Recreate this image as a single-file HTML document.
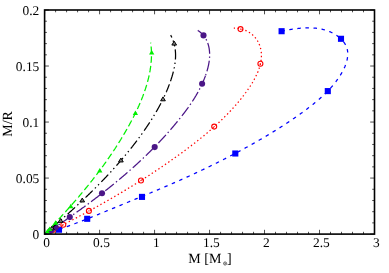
<!DOCTYPE html>
<html><head><meta charset="utf-8"><title>plot</title>
<style>
html,body{margin:0;padding:0;background:#fff;}
body{width:389px;height:273px;position:relative;overflow:hidden;font-family:"Liberation Serif",serif;}
svg{will-change:transform;}
svg text{text-rendering:geometricPrecision;font-family:"Liberation Serif",serif;fill:#000;}
</style></head><body>
<svg width="389" height="273" viewBox="0 0 389 273" style="position:absolute;left:0;top:0">
<rect x="0" y="0" width="389" height="273" fill="#fff"/>
<path d="M44.61 234.13 L45.31 233.91 L46.02 233.69 L46.72 233.46 L47.42 233.24 L48.12 233.02 L48.82 232.79 L49.53 232.56 L50.23 232.34 L50.93 232.11 L51.63 231.88 L52.33 231.65 L53.03 231.42 L53.72 231.18 L54.42 230.95 L55.12 230.71 L55.82 230.48 L56.52 230.24 L57.21 230.00 L57.91 229.76 L58.61 229.52 L59.30 229.28 L60.00 229.04 L60.69 228.79 L61.39 228.55 L62.08 228.31 L62.78 228.06 L63.47 227.81 L64.16 227.56 L64.86 227.32 L65.55 227.07 L66.24 226.82 L66.93 226.56 L67.63 226.31 L68.32 226.06 L69.01 225.81 L69.70 225.55 L70.39 225.30 L71.08 225.04 L71.77 224.78 L72.46 224.52 L73.15 224.27 L73.84 224.01 L74.53 223.75 L75.22 223.49 L75.91 223.23 L76.60 222.96 L77.29 222.70 L77.97 222.44 L78.66 222.17 L79.35 221.91 L80.04 221.64 L80.72 221.38 L81.41 221.11 L82.10 220.85 L82.78 220.58 L83.47 220.31 L84.16 220.04 L84.84 219.77 L85.53 219.50 L86.21 219.23 L86.90 218.96 L87.58 218.69 L88.27 218.42 L88.95 218.15 L89.64 217.87 L90.32 217.60 L91.01 217.33 L91.69 217.05 L92.38 216.78 L93.06 216.51 L93.74 216.23 L94.43 215.96 L95.11 215.68 L95.79 215.40 L96.48 215.13 L97.16 214.85 L97.84 214.57 L98.52 214.30 L99.21 214.02 L99.89 213.74 L100.57 213.46 L101.25 213.18 L101.94 212.91 L102.62 212.63 L103.30 212.35 L103.98 212.07 L104.66 211.79 L105.35 211.51 L106.03 211.23 L106.71 210.95 L107.39 210.67 L108.07 210.39 L108.75 210.11 L109.43 209.83 L110.12 209.55 L110.80 209.27 L111.48 208.99 L112.16 208.71 L112.84 208.42 L113.52 208.14 L114.20 207.86 L114.88 207.58 L115.56 207.30 L116.24 207.02 L116.93 206.74 L117.61 206.46 L118.29 206.18 L118.97 205.90 L119.65 205.62 L120.33 205.34 L121.01 205.06 L121.69 204.78 L122.37 204.50 L123.05 204.22 L123.73 203.94 L124.42 203.66 L125.10 203.38 L125.78 203.10 L126.46 202.82 L127.14 202.54 L127.82 202.26 L128.50 201.98 L129.18 201.70 L129.86 201.42 L130.54 201.14 L131.22 200.86 L131.90 200.58 L132.58 200.30 L133.27 200.02 L133.95 199.74 L134.63 199.46 L135.31 199.18 L135.99 198.90 L136.67 198.62 L137.35 198.34 L138.03 198.06 L138.71 197.78 L139.39 197.50 L140.07 197.22 L140.75 196.94 L141.43 196.66 L142.11 196.38 L142.79 196.10 L143.47 195.82 L144.15 195.54 L144.83 195.25 L145.51 194.97 L146.19 194.69 L146.87 194.41 L147.55 194.13 L148.23 193.84 L148.91 193.56 L149.58 193.28 L150.26 193.00 L150.94 192.71 L151.62 192.43 L152.30 192.15 L152.98 191.86 L153.66 191.58 L154.34 191.29 L155.01 191.01 L155.69 190.72 L156.37 190.44 L157.05 190.15 L157.73 189.87 L158.40 189.58 L159.08 189.29 L159.76 189.00 L160.44 188.72 L161.11 188.43 L161.79 188.14 L162.47 187.85 L163.14 187.56 L163.82 187.27 L164.50 186.98 L165.17 186.69 L165.85 186.40 L166.53 186.11 L167.20 185.82 L167.88 185.53 L168.55 185.24 L169.23 184.94 L169.90 184.65 L170.58 184.36 L171.25 184.06 L171.93 183.77 L172.60 183.47 L173.28 183.18 L173.95 182.88 L174.63 182.59 L175.30 182.29 L175.97 181.99 L176.65 181.69 L177.32 181.40 L177.99 181.10 L178.67 180.80 L179.34 180.50 L180.01 180.20 L180.69 179.90 L181.36 179.60 L182.03 179.30 L182.70 178.99 L183.37 178.69 L184.04 178.39 L184.72 178.09 L185.39 177.78 L186.06 177.48 L186.73 177.17 L187.40 176.87 L188.07 176.56 L188.74 176.26 L189.41 175.95 L190.08 175.64 L190.75 175.34 L191.42 175.03 L192.09 174.72 L192.76 174.41 L193.42 174.10 L194.09 173.79 L194.76 173.48 L195.43 173.17 L196.10 172.86 L196.76 172.55 L197.43 172.23 L198.10 171.92 L198.77 171.61 L199.43 171.29 L200.10 170.98 L200.77 170.66 L201.43 170.35 L202.10 170.03 L202.76 169.71 L203.43 169.40 L204.09 169.08 L204.76 168.76 L205.42 168.44 L206.09 168.12 L206.75 167.80 L207.41 167.48 L208.08 167.16 L208.74 166.84 L209.40 166.52 L210.06 166.19 L210.73 165.87 L211.39 165.55 L212.05 165.22 L212.71 164.90 L213.37 164.57 L214.03 164.25 L214.70 163.92 L215.36 163.59 L216.02 163.27 L216.68 162.94 L217.34 162.61 L218.00 162.28 L218.65 161.95 L219.31 161.62 L219.97 161.29 L220.63 160.96 L221.29 160.63 L221.95 160.29 L222.60 159.96 L223.26 159.63 L223.92 159.29 L224.57 158.96 L225.23 158.62 L225.89 158.29 L226.54 157.95 L227.20 157.61 L227.85 157.27 L228.51 156.93 L229.16 156.60 L229.81 156.26 L230.47 155.92 L231.12 155.57 L231.77 155.23 L232.43 154.89 L233.08 154.55 L233.73 154.20 L234.38 153.86 L235.04 153.52 L235.69 153.17 L236.34 152.83 L236.99 152.48 L237.64 152.13 L238.29 151.78 L238.94 151.44 L239.59 151.09 L240.24 150.74 L240.88 150.39 L241.53 150.04 L242.18 149.69 L242.83 149.33 L243.47 148.98 L244.12 148.63 L244.77 148.27 L245.41 147.92 L246.06 147.56 L246.70 147.21 L247.35 146.85 L247.99 146.49 L248.64 146.14 L249.28 145.78 L249.93 145.42 L250.57 145.06 L251.21 144.70 L251.85 144.34 L252.50 143.98 L253.14 143.61 L253.78 143.25 L254.42 142.89 L255.06 142.52 L255.70 142.16 L256.34 141.79 L256.98 141.42 L257.62 141.06 L258.26 140.69 L258.90 140.32 L259.54 139.95 L260.17 139.58 L260.81 139.21 L261.45 138.84 L262.08 138.47 L262.72 138.10 L263.35 137.72 L263.99 137.35 L264.62 136.97 L265.26 136.60 L265.89 136.22 L266.53 135.84 L267.16 135.47 L267.79 135.09 L268.42 134.71 L269.06 134.33 L269.69 133.95 L270.32 133.57 L270.95 133.19 L271.58 132.80 L272.21 132.42 L272.84 132.03 L273.47 131.65 L274.09 131.26 L274.72 130.88 L275.35 130.49 L275.97 130.10 L276.60 129.71 L277.22 129.32 L277.85 128.93 L278.47 128.54 L279.10 128.14 L279.72 127.75 L280.34 127.35 L280.96 126.96 L281.59 126.56 L282.21 126.16 L282.83 125.77 L283.45 125.37 L284.06 124.96 L284.68 124.56 L285.30 124.16 L285.92 123.76 L286.53 123.35 L287.15 122.95 L287.76 122.54 L288.38 122.13 L288.99 121.72 L289.60 121.31 L290.21 120.90 L290.83 120.49 L291.44 120.08 L292.05 119.66 L292.66 119.25 L293.26 118.83 L293.87 118.42 L294.48 118.00 L295.08 117.58 L295.69 117.16 L296.29 116.74 L296.90 116.31 L297.50 115.89 L298.10 115.46 L298.70 115.04 L299.30 114.61 L299.90 114.18 L300.50 113.75 L301.10 113.32 L301.70 112.89 L302.29 112.45 L302.89 112.02 L303.48 111.58 L304.08 111.14 L304.67 110.70 L305.26 110.26 L305.85 109.82 L306.44 109.38 L307.03 108.94 L307.62 108.49 L308.21 108.04 L308.79 107.60 L309.38 107.15 L309.96 106.70 L310.55 106.24 L311.13 105.79 L311.71 105.33 L312.29 104.88 L312.86 104.42 L313.44 103.96 L314.01 103.49 L314.59 103.03 L315.16 102.56 L315.73 102.09 L316.29 101.62 L316.86 101.15 L317.42 100.68 L317.98 100.20 L318.54 99.72 L319.10 99.24 L319.65 98.76 L320.20 98.27 L320.75 97.78 L321.30 97.29 L321.85 96.80 L322.39 96.30 L322.93 95.80 L323.46 95.30 L324.00 94.80 L324.53 94.29 L325.06 93.78 L325.58 93.27 L326.11 92.75 L326.63 92.23 L327.14 91.71 L327.65 91.19 L328.16 90.66 L328.67 90.13 L329.17 89.60 L329.67 89.06 L330.17 88.52 L330.66 87.98 L331.15 87.43 L331.63 86.88 L332.11 86.33 L332.59 85.77 L333.06 85.21 L333.53 84.64 L333.99 84.07 L334.45 83.50 L334.91 82.93 L335.36 82.35 L335.81 81.76 L336.25 81.17 L336.69 80.58 L337.12 79.99 L337.55 79.39 L337.98 78.78 L338.40 78.18 L338.81 77.56 L339.22 76.95 L339.63 76.33 L340.03 75.70 L340.42 75.07 L340.81 74.44 L341.20 73.80 L341.58 73.16 L341.95 72.51 L342.32 71.85 L342.68 71.20 L343.03 70.54 L343.38 69.87 L343.71 69.20 L344.04 68.52 L344.35 67.84 L344.66 67.16 L344.96 66.47 L345.24 65.77 L345.51 65.07 L345.77 64.37 L346.02 63.66 L346.25 62.94 L346.47 62.22 L346.67 61.50 L346.86 60.77 L347.04 60.03 L347.19 59.29 L347.33 58.54 L347.45 57.80 L347.55 57.04 L347.64 56.29 L347.70 55.54 L347.74 54.78 L347.76 54.04 L347.75 53.29 L347.72 52.55 L347.66 51.82 L347.57 51.09 L347.46 50.38 L347.32 49.67 L347.15 48.98 L346.96 48.29 L346.74 47.62 L346.49 46.95 L346.23 46.30 L345.93 45.65 L345.62 45.02 L345.28 44.40 L344.92 43.79 L344.54 43.18 L344.14 42.59 L343.72 42.01 L343.29 41.45 L342.83 40.89 L342.36 40.34 L341.87 39.81 L341.36 39.29 L340.84 38.77" fill="none" stroke="#0000ff" stroke-width="1.25" stroke-dasharray="3.5 4.6" stroke-dashoffset="0.90"/>
<path d="M340.84 38.77 L340.30 38.27 L339.75 37.78 L339.19 37.31 L338.61 36.84 L338.03 36.39 L337.43 35.95 L336.82 35.52 L336.20 35.10 L335.57 34.70 L334.94 34.31 L334.29 33.93 L333.64 33.56 L332.98 33.21 L332.32 32.86 L331.65 32.54 L330.98 32.22 L330.30 31.92 L329.62 31.63 L328.94 31.35 L328.25 31.08 L327.56 30.83 L326.86 30.58 L326.16 30.35 L325.46 30.13 L324.76 29.93 L324.05 29.73 L323.33 29.54 L322.62 29.37 L321.90 29.20 L321.18 29.05 L320.46 28.90 L319.73 28.77 L319.01 28.65 L318.28 28.53 L317.55 28.43 L316.81 28.33 L316.08 28.24 L315.34 28.16 L314.60 28.10 L313.86 28.04 L313.12 27.98 L312.38 27.94 L311.63 27.90 L310.89 27.88 L310.14 27.86 L309.39 27.84 L308.65 27.84 L307.90 27.84 L307.15 27.85 L306.40 27.86 L305.65 27.89 L304.90 27.92 L304.16 27.95 L303.41 27.99 L302.66 28.04 L301.91 28.09 L301.16 28.15 L300.42 28.21 L299.67 28.28 L298.93 28.36 L298.18 28.43 L297.44 28.52 L296.70 28.61 L295.96 28.70 L295.22 28.79 L294.48 28.90 L293.75 29.00 L293.01 29.11 L292.28 29.22 L291.55 29.33 L290.82 29.45 L290.10 29.57 L289.38 29.69 L288.66 29.82 L287.94 29.95 L287.22 30.08 L286.51 30.21 L285.80 30.34 L285.10 30.48 L284.39 30.61 L283.69 30.75 L283.00 30.89 L282.31 31.03 L281.62 31.17" fill="none" stroke="#0000ff" stroke-width="1.25" stroke-dasharray="3.5 4.6" stroke-dashoffset="5.93"/>
<rect x="55.95" y="226.65" width="6.1" height="6.1" fill="#0000ff"/>
<rect x="84.15" y="215.75" width="6.1" height="6.1" fill="#0000ff"/>
<rect x="138.95" y="193.85" width="6.1" height="6.1" fill="#0000ff"/>
<rect x="232.25" y="150.45" width="6.1" height="6.1" fill="#0000ff"/>
<rect x="324.75" y="88.05" width="6.1" height="6.1" fill="#0000ff"/>
<rect x="337.95" y="35.75" width="6.1" height="6.1" fill="#0000ff"/>
<rect x="278.55" y="28.15" width="6.1" height="6.1" fill="#0000ff"/>
<path d="M44.60 234.12 L45.10 233.87 L45.60 233.63 L46.09 233.38 L46.59 233.13 L47.09 232.88 L47.59 232.63 L48.09 232.38 L48.58 232.13 L49.08 231.88 L49.58 231.63 L50.08 231.38 L50.57 231.13 L51.07 230.88 L51.57 230.63 L52.07 230.38 L52.56 230.13 L53.06 229.88 L53.56 229.63 L54.05 229.38 L54.55 229.12 L55.04 228.87 L55.54 228.62 L56.04 228.37 L56.53 228.12 L57.03 227.86 L57.52 227.61 L58.02 227.36 L58.51 227.11 L59.01 226.85 L59.50 226.60 L60.00 226.35 L60.49 226.09 L60.99 225.84 L61.48 225.59 L61.98 225.33 L62.47 225.08 L62.96 224.82 L63.46 224.57 L63.95 224.31 L64.45 224.06 L64.94 223.80 L65.43 223.55 L65.93 223.29 L66.42 223.04 L66.91 222.78 L67.40 222.52 L67.90 222.27 L68.39 222.01 L68.88 221.75 L69.37 221.50 L69.87 221.24 L70.36 220.98 L70.85 220.72 L71.34 220.47 L71.83 220.21 L72.32 219.95 L72.82 219.69 L73.31 219.43 L73.80 219.17 L74.29 218.91 L74.78 218.65 L75.27 218.40 L75.76 218.14 L76.25 217.88 L76.74 217.62 L77.23 217.36 L77.72 217.09 L78.21 216.83 L78.70 216.57 L79.19 216.31 L79.68 216.05 L80.17 215.79 L80.66 215.53 L81.14 215.26 L81.63 215.00 L82.12 214.74 L82.61 214.48 L83.10 214.21 L83.59 213.95 L84.07 213.69 L84.56 213.42 L85.05 213.16 L85.54 212.90 L86.02 212.63 L86.51 212.37 L87.00 212.10 L87.49 211.84 L87.97 211.57 L88.46 211.31 L88.94 211.04 L89.43 210.78 L89.92 210.51 L90.40 210.24 L90.89 209.98 L91.37 209.71 L91.86 209.44 L92.35 209.18 L92.83 208.91 L93.32 208.64 L93.80 208.37 L94.29 208.10 L94.77 207.83 L95.25 207.57 L95.74 207.30 L96.22 207.03 L96.71 206.76 L97.19 206.49 L97.67 206.22 L98.16 205.95 L98.64 205.68 L99.12 205.41 L99.61 205.14 L100.09 204.86 L100.57 204.59 L101.05 204.32 L101.54 204.05 L102.02 203.78 L102.50 203.50 L102.98 203.23 L103.46 202.96 L103.95 202.68 L104.43 202.41 L104.91 202.14 L105.39 201.86 L105.87 201.59 L106.35 201.31 L106.83 201.04 L107.31 200.76 L107.79 200.49 L108.27 200.21 L108.75 199.94 L109.23 199.66 L109.71 199.38 L110.19 199.11 L110.67 198.83 L111.15 198.55 L111.63 198.28 L112.11 198.00 L112.59 197.72 L113.06 197.44 L113.54 197.16 L114.02 196.88 L114.50 196.60 L114.98 196.32 L115.45 196.04 L115.93 195.76 L116.41 195.48 L116.89 195.20 L117.36 194.92 L117.84 194.64 L118.32 194.36 L118.79 194.08 L119.27 193.80 L119.74 193.51 L120.22 193.23 L120.70 192.95 L121.17 192.66 L121.65 192.38 L122.12 192.10 L122.60 191.81 L123.07 191.53 L123.55 191.24 L124.02 190.96 L124.50 190.67 L124.97 190.39 L125.44 190.10 L125.92 189.82 L126.39 189.53 L126.86 189.24 L127.34 188.96 L127.81 188.67 L128.28 188.38 L128.76 188.09 L129.23 187.80 L129.70 187.52 L130.17 187.23 L130.65 186.94 L131.12 186.65 L131.59 186.36 L132.06 186.07 L132.53 185.78 L133.00 185.49 L133.47 185.20 L133.94 184.90 L134.42 184.61 L134.89 184.32 L135.36 184.03 L135.83 183.74 L136.30 183.44 L136.77 183.15 L137.23 182.86 L137.70 182.56 L138.17 182.27 L138.64 181.97 L139.11 181.68 L139.58 181.38 L140.05 181.09 L140.52 180.79 L140.98 180.49 L141.45 180.20 L141.92 179.90 L142.39 179.60 L142.85 179.31 L143.32 179.01 L143.79 178.71 L144.26 178.41 L144.72 178.11 L145.19 177.81 L145.65 177.51 L146.12 177.21 L146.59 176.91 L147.05 176.61 L147.52 176.31 L147.98 176.01 L148.45 175.71 L148.91 175.41 L149.38 175.11 L149.84 174.80 L150.31 174.50 L150.77 174.20 L151.23 173.89 L151.70 173.59 L152.16 173.28 L152.62 172.98 L153.09 172.67 L153.55 172.37 L154.01 172.06 L154.47 171.76 L154.94 171.45 L155.40 171.14 L155.86 170.84 L156.32 170.53 L156.78 170.22 L157.25 169.91 L157.71 169.61 L158.17 169.30 L158.63 168.99 L159.09 168.68 L159.55 168.37 L160.01 168.06 L160.47 167.75 L160.93 167.43 L161.39 167.12 L161.85 166.81 L162.31 166.50 L162.77 166.19 L163.23 165.87 L163.68 165.56 L164.14 165.25 L164.60 164.93 L165.06 164.62 L165.52 164.30 L165.97 163.99 L166.43 163.67 L166.89 163.36 L167.35 163.04 L167.80 162.72 L168.26 162.41 L168.72 162.09 L169.17 161.77 L169.63 161.45 L170.08 161.14 L170.54 160.82 L170.99 160.50 L171.45 160.18 L171.90 159.86 L172.36 159.54 L172.81 159.22 L173.27 158.89 L173.72 158.57 L174.18 158.25 L174.63 157.93 L175.08 157.61 L175.54 157.28 L175.99 156.96 L176.44 156.63 L176.89 156.31 L177.35 155.99 L177.80 155.66 L178.25 155.33 L178.70 155.01 L179.15 154.68 L179.61 154.36 L180.06 154.03 L180.51 153.70 L180.96 153.37 L181.41 153.04 L181.86 152.72 L182.31 152.39 L182.76 152.06 L183.21 151.73 L183.66 151.40 L184.11 151.06 L184.55 150.73 L185.00 150.40 L185.45 150.07 L185.90 149.74 L186.35 149.40 L186.79 149.07 L187.24 148.74 L187.69 148.40 L188.13 148.07 L188.58 147.73 L189.02 147.39 L189.47 147.06 L189.91 146.72 L190.36 146.38 L190.80 146.04 L191.24 145.71 L191.69 145.37 L192.13 145.03 L192.57 144.69 L193.01 144.35 L193.45 144.01 L193.90 143.66 L194.34 143.32 L194.78 142.98 L195.22 142.64 L195.65 142.29 L196.09 141.95 L196.53 141.60 L196.97 141.26 L197.41 140.91 L197.84 140.57 L198.28 140.22 L198.72 139.87 L199.15 139.52 L199.59 139.17 L200.02 138.82 L200.45 138.47 L200.89 138.12 L201.32 137.77 L201.75 137.42 L202.18 137.07 L202.61 136.72 L203.04 136.36 L203.47 136.01 L203.90 135.65 L204.33 135.30 L204.76 134.94 L205.19 134.59 L205.61 134.23 L206.04 133.87 L206.47 133.51 L206.89 133.15 L207.32 132.80 L207.74 132.43 L208.16 132.07 L208.59 131.71 L209.01 131.35 L209.43 130.99 L209.85 130.62 L210.27 130.26 L210.69 129.89 L211.11 129.53 L211.52 129.16 L211.94 128.80 L212.36 128.43 L212.77 128.06 L213.19 127.69 L213.60 127.32 L214.02 126.95 L214.43 126.58 L214.84 126.21 L215.25 125.84 L215.66 125.46 L216.07 125.09 L216.48 124.72 L216.89 124.34 L217.30 123.96 L217.70 123.59 L218.11 123.21 L218.51 122.83 L218.92 122.45 L219.32 122.07 L219.72 121.69 L220.12 121.31 L220.53 120.93 L220.93 120.55 L221.32 120.16 L221.72 119.78 L222.12 119.39 L222.52 119.01 L222.91 118.62 L223.31 118.24 L223.70 117.85 L224.09 117.46 L224.49 117.07 L224.88 116.68 L225.27 116.29 L225.66 115.90 L226.04 115.50 L226.43 115.11 L226.82 114.71 L227.20 114.32 L227.59 113.92 L227.97 113.53 L228.35 113.13 L228.74 112.73 L229.12 112.33 L229.50 111.93 L229.88 111.53 L230.25 111.13 L230.63 110.72 L231.01 110.32 L231.38 109.92 L231.75 109.51 L232.13 109.10 L232.50 108.70 L232.87 108.29 L233.24 107.88 L233.61 107.47 L233.97 107.06 L234.34 106.65 L234.70 106.24 L235.07 105.82 L235.43 105.41 L235.79 104.99 L236.15 104.58 L236.51 104.16 L236.87 103.74 L237.23 103.32 L237.58 102.91 L237.94 102.48 L238.29 102.06 L238.65 101.64 L239.00 101.22 L239.35 100.79 L239.70 100.37 L240.05 99.94 L240.39 99.51 L240.74 99.09 L241.08 98.66 L241.43 98.23 L241.77 97.80 L242.11 97.36 L242.45 96.93 L242.79 96.50 L243.12 96.06 L243.46 95.63 L243.79 95.19 L244.13 94.75 L244.46 94.31 L244.79 93.87 L245.12 93.43 L245.45 92.99 L245.78 92.55 L246.10 92.10 L246.43 91.66 L246.75 91.21 L247.07 90.77 L247.39 90.32 L247.71 89.87 L248.03 89.42 L248.34 88.97 L248.65 88.51 L248.97 88.06 L249.27 87.60 L249.58 87.14 L249.89 86.68 L250.19 86.22 L250.49 85.76 L250.79 85.29 L251.09 84.83 L251.38 84.36 L251.68 83.89 L251.97 83.42 L252.25 82.95 L252.54 82.47 L252.82 81.99 L253.10 81.51 L253.38 81.03 L253.65 80.55 L253.92 80.06 L254.19 79.57 L254.45 79.08 L254.72 78.59 L254.98 78.09 L255.23 77.60 L255.49 77.10 L255.74 76.59 L255.98 76.09 L256.22 75.58 L256.46 75.07 L256.70 74.56 L256.93 74.04 L257.16 73.52 L257.38 73.00 L257.60 72.48 L257.82 71.96 L258.03 71.43 L258.24 70.90 L258.44 70.37 L258.63 69.84 L258.82 69.31 L259.01 68.77 L259.19 68.24 L259.36 67.70 L259.53 67.16 L259.70 66.62 L259.85 66.08 L260.00 65.53 L260.14 64.99 L260.28 64.44 L260.41 63.90 L260.53 63.35 L260.65 62.81 L260.76 62.26 L260.86 61.71 L260.95 61.16 L261.04 60.61 L261.12 60.06 L261.19 59.51 L261.25 58.96 L261.30 58.41 L261.34 57.86 L261.38 57.32 L261.41 56.77 L261.42 56.22 L261.43 55.67 L261.43 55.12 L261.42 54.57 L261.40 54.03 L261.37 53.48 L261.33 52.94 L261.28 52.39 L261.22 51.85 L261.15 51.31 L261.07 50.77 L260.98 50.23 L260.87 49.69 L260.76 49.16 L260.64 48.63 L260.51 48.10 L260.36 47.57 L260.21 47.04 L260.05 46.52 L259.87 46.00 L259.69 45.49 L259.50 44.98 L259.30 44.47 L259.08 43.97 L258.86 43.47 L258.63 42.98 L258.39 42.49 L258.14 42.00 L257.88 41.53 L257.61 41.05 L257.33 40.58 L257.04 40.12 L256.74 39.67 L256.43 39.22 L256.11 38.78 L255.79 38.34 L255.45 37.91 L255.10 37.49 L254.75 37.08 L254.39 36.67 L254.02 36.28 L253.63 35.89 L253.24 35.51 L252.85 35.13 L252.44 34.77 L252.02 34.41 L251.60 34.07 L251.16 33.73 L250.72 33.40 L250.27 33.08 L249.82 32.78 L249.35 32.48 L248.88 32.19 L248.41 31.90 L247.92 31.63 L247.43 31.37 L246.94 31.12 L246.43 30.88 L245.93 30.65 L245.41 30.42 L244.89 30.21 L244.37 30.01 L243.84 29.82 L243.31 29.64 L242.78 29.47 L242.23 29.31 L241.69 29.16 L241.14 29.02 L240.59 28.89 L240.04 28.77 L239.48 28.66 L238.92 28.57 L238.36 28.48 L237.80 28.41 L237.24 28.34 L236.67 28.29 L236.10 28.25 L235.53 28.22 L234.96 28.20 L234.39 28.19 L233.82 28.20" fill="none" stroke="#ff0000" stroke-width="1.25" stroke-dasharray="1.4 2.6" stroke-dashoffset="0.91"/>
<circle cx="53.00" cy="230.00" r="2.5" fill="none" stroke="#ff0000" stroke-width="1.1"/><circle cx="53.00" cy="230.00" r="0.65" fill="#ff0000"/>
<circle cx="63.30" cy="224.80" r="2.5" fill="none" stroke="#ff0000" stroke-width="1.1"/><circle cx="63.30" cy="224.80" r="0.65" fill="#ff0000"/>
<circle cx="88.90" cy="210.90" r="2.5" fill="none" stroke="#ff0000" stroke-width="1.1"/><circle cx="88.90" cy="210.90" r="0.65" fill="#ff0000"/>
<circle cx="141.00" cy="180.50" r="2.5" fill="none" stroke="#ff0000" stroke-width="1.1"/><circle cx="141.00" cy="180.50" r="0.65" fill="#ff0000"/>
<circle cx="214.20" cy="126.60" r="2.5" fill="none" stroke="#ff0000" stroke-width="1.1"/><circle cx="214.20" cy="126.60" r="0.65" fill="#ff0000"/>
<circle cx="260.40" cy="63.80" r="2.5" fill="none" stroke="#ff0000" stroke-width="1.1"/><circle cx="260.40" cy="63.80" r="0.65" fill="#ff0000"/>
<circle cx="240.50" cy="29.10" r="2.5" fill="none" stroke="#ff0000" stroke-width="1.1"/><circle cx="240.50" cy="29.10" r="0.65" fill="#ff0000"/>
<path d="M44.68 234.20 L45.06 233.94 L45.45 233.69 L45.83 233.43 L46.22 233.18 L46.60 232.92 L46.98 232.66 L47.37 232.41 L47.75 232.15 L48.14 231.89 L48.52 231.64 L48.91 231.38 L49.29 231.12 L49.68 230.86 L50.06 230.61 L50.45 230.35 L50.83 230.09 L51.21 229.83 L51.60 229.57 L51.98 229.32 L52.37 229.06 L52.75 228.80 L53.13 228.54 L53.52 228.28 L53.90 228.02 L54.29 227.76 L54.67 227.50 L55.05 227.24 L55.44 226.98 L55.82 226.72 L56.21 226.46 L56.59 226.20 L56.97 225.94 L57.36 225.68 L57.74 225.42 L58.12 225.16 L58.51 224.90 L58.89 224.63 L59.27 224.37 L59.65 224.11 L60.04 223.85 L60.42 223.59 L60.80 223.32 L61.19 223.06 L61.57 222.80 L61.95 222.54 L62.33 222.27 L62.72 222.01 L63.10 221.75 L63.48 221.48 L63.86 221.22 L64.25 220.95 L64.63 220.69 L65.01 220.43 L65.39 220.16 L65.77 219.90 L66.15 219.63 L66.54 219.37 L66.92 219.10 L67.30 218.84 L67.68 218.57 L68.06 218.30 L68.44 218.04 L68.82 217.77 L69.20 217.51 L69.59 217.24 L69.97 216.97 L70.35 216.70 L70.73 216.44 L71.11 216.17 L71.49 215.90 L71.87 215.63 L72.25 215.37 L72.63 215.10 L73.01 214.83 L73.39 214.56 L73.77 214.29 L74.15 214.02 L74.53 213.75 L74.91 213.48 L75.29 213.21 L75.66 212.94 L76.04 212.67 L76.42 212.40 L76.80 212.13 L77.18 211.86 L77.56 211.59 L77.94 211.32 L78.31 211.05 L78.69 210.78 L79.07 210.51 L79.45 210.23 L79.83 209.96 L80.20 209.69 L80.58 209.42 L80.96 209.14 L81.34 208.87 L81.71 208.60 L82.09 208.32 L82.47 208.05 L82.84 207.78 L83.22 207.50 L83.60 207.23 L83.97 206.95 L84.35 206.68 L84.72 206.40 L85.10 206.13 L85.48 205.85 L85.85 205.58 L86.23 205.30 L86.60 205.03 L86.98 204.75 L87.35 204.47 L87.73 204.20 L88.10 203.92 L88.48 203.64 L88.85 203.36 L89.22 203.09 L89.60 202.81 L89.97 202.53 L90.35 202.25 L90.72 201.97 L91.09 201.70 L91.47 201.42 L91.84 201.14 L92.21 200.86 L92.58 200.58 L92.96 200.30 L93.33 200.02 L93.70 199.74 L94.07 199.46 L94.44 199.18 L94.82 198.89 L95.19 198.61 L95.56 198.33 L95.93 198.05 L96.30 197.77 L96.67 197.48 L97.04 197.20 L97.41 196.92 L97.78 196.64 L98.15 196.35 L98.52 196.07 L98.89 195.79 L99.26 195.50 L99.63 195.22 L100.00 194.93 L100.37 194.65 L100.74 194.36 L101.11 194.08 L101.47 193.79 L101.84 193.51 L102.21 193.22 L102.58 192.93 L102.94 192.65 L103.31 192.36 L103.68 192.07 L104.05 191.79 L104.41 191.50 L104.78 191.21 L105.14 190.92 L105.51 190.63 L105.88 190.34 L106.24 190.06 L106.61 189.77 L106.97 189.48 L107.34 189.19 L107.70 188.90 L108.07 188.61 L108.43 188.32 L108.80 188.03 L109.16 187.73 L109.52 187.44 L109.89 187.15 L110.25 186.86 L110.61 186.57 L110.97 186.28 L111.34 185.98 L111.70 185.69 L112.06 185.40 L112.42 185.10 L112.78 184.81 L113.15 184.52 L113.51 184.22 L113.87 183.93 L114.23 183.63 L114.59 183.34 L114.95 183.04 L115.31 182.75 L115.67 182.45 L116.03 182.15 L116.39 181.86 L116.75 181.56 L117.10 181.26 L117.46 180.97 L117.82 180.67 L118.18 180.37 L118.54 180.07 L118.89 179.78 L119.25 179.48 L119.61 179.18 L119.96 178.88 L120.32 178.58 L120.68 178.28 L121.03 177.98 L121.39 177.68 L121.74 177.38 L122.10 177.08 L122.45 176.78 L122.81 176.47 L123.16 176.17 L123.52 175.87 L123.87 175.57 L124.22 175.26 L124.58 174.96 L124.93 174.66 L125.28 174.35 L125.64 174.05 L125.99 173.75 L126.34 173.44 L126.69 173.14 L127.04 172.83 L127.39 172.53 L127.74 172.22 L128.09 171.92 L128.44 171.61 L128.79 171.30 L129.14 171.00 L129.49 170.69 L129.84 170.38 L130.19 170.07 L130.54 169.76 L130.89 169.46 L131.24 169.15 L131.58 168.84 L131.93 168.53 L132.28 168.22 L132.62 167.91 L132.97 167.60 L133.32 167.29 L133.66 166.98 L134.01 166.67 L134.35 166.36 L134.70 166.04 L135.04 165.73 L135.39 165.42 L135.73 165.11 L136.07 164.79 L136.42 164.48 L136.76 164.17 L137.10 163.85 L137.45 163.54 L137.79 163.22 L138.13 162.91 L138.47 162.59 L138.81 162.28 L139.15 161.96 L139.49 161.64 L139.83 161.33 L140.17 161.01 L140.51 160.69 L140.85 160.38 L141.19 160.06 L141.53 159.74 L141.87 159.42 L142.20 159.10 L142.54 158.78 L142.88 158.46 L143.22 158.14 L143.55 157.82 L143.89 157.50 L144.23 157.18 L144.56 156.86 L144.90 156.54 L145.23 156.22 L145.57 155.90 L145.90 155.57 L146.23 155.25 L146.57 154.93 L146.90 154.60 L147.23 154.28 L147.56 153.96 L147.90 153.63 L148.23 153.31 L148.56 152.98 L148.89 152.66 L149.22 152.33 L149.55 152.00 L149.88 151.68 L150.21 151.35 L150.54 151.02 L150.87 150.69 L151.20 150.37 L151.53 150.04 L151.85 149.71 L152.18 149.38 L152.51 149.05 L152.84 148.72 L153.16 148.39 L153.49 148.06 L153.81 147.73 L154.14 147.40 L154.46 147.07 L154.79 146.74 L155.11 146.40 L155.44 146.07 L155.76 145.74 L156.08 145.41 L156.40 145.07 L156.73 144.74 L157.05 144.40 L157.37 144.07 L157.69 143.73 L158.01 143.40 L158.33 143.06 L158.65 142.73 L158.97 142.39 L159.29 142.05 L159.61 141.72 L159.93 141.38 L160.25 141.04 L160.56 140.70 L160.88 140.36 L161.20 140.02 L161.51 139.68 L161.83 139.34 L162.14 139.00 L162.46 138.66 L162.77 138.32 L163.09 137.98 L163.40 137.64 L163.72 137.30 L164.03 136.96 L164.34 136.61 L164.65 136.27 L164.97 135.93 L165.28 135.58 L165.59 135.24 L165.90 134.89 L166.21 134.55 L166.52 134.20 L166.83 133.86 L167.14 133.51 L167.45 133.17 L167.75 132.82 L168.06 132.47 L168.37 132.12 L168.68 131.78 L168.98 131.43 L169.29 131.08 L169.59 130.73 L169.90 130.38 L170.20 130.03 L170.51 129.68 L170.81 129.33 L171.12 128.98 L171.42 128.63 L171.72 128.27 L172.02 127.92 L172.33 127.57 L172.63 127.22 L172.93 126.86 L173.23 126.51 L173.53 126.15 L173.83 125.80 L174.13 125.44 L174.42 125.09 L174.72 124.73 L175.02 124.38 L175.32 124.02 L175.61 123.66 L175.91 123.31 L176.21 122.95 L176.50 122.59 L176.80 122.23 L177.09 121.87 L177.39 121.51 L177.68 121.15 L177.97 120.79 L178.26 120.43 L178.56 120.07 L178.85 119.71 L179.14 119.35 L179.43 118.99 L179.72 118.62 L180.01 118.26 L180.30 117.90 L180.59 117.53 L180.88 117.17 L181.17 116.80 L181.45 116.44 L181.74 116.07 L182.03 115.71 L182.31 115.34 L182.60 114.97 L182.88 114.61 L183.17 114.24 L183.45 113.87 L183.73 113.50 L184.01 113.13 L184.29 112.76 L184.58 112.39 L184.86 112.02 L185.13 111.65 L185.41 111.28 L185.69 110.90 L185.97 110.53 L186.24 110.16 L186.52 109.78 L186.79 109.41 L187.07 109.03 L187.34 108.66 L187.61 108.28 L187.88 107.90 L188.16 107.53 L188.43 107.15 L188.69 106.77 L188.96 106.39 L189.23 106.01 L189.49 105.63 L189.76 105.25 L190.02 104.87 L190.29 104.48 L190.55 104.10 L190.81 103.72 L191.07 103.33 L191.33 102.95 L191.59 102.56 L191.84 102.18 L192.10 101.79 L192.36 101.40 L192.61 101.01 L192.86 100.62 L193.11 100.23 L193.36 99.84 L193.61 99.45 L193.86 99.06 L194.11 98.67 L194.35 98.27 L194.60 97.88 L194.84 97.48 L195.08 97.09 L195.32 96.69 L195.56 96.29 L195.80 95.89 L196.04 95.50 L196.27 95.10 L196.51 94.69 L196.74 94.29 L196.97 93.89 L197.20 93.49 L197.43 93.08 L197.66 92.68 L197.89 92.27 L198.11 91.87 L198.33 91.46 L198.56 91.05 L198.78 90.64 L198.99 90.23 L199.21 89.82 L199.43 89.41 L199.64 89.00 L199.85 88.59 L200.07 88.17 L200.28 87.76 L200.48 87.34 L200.69 86.92 L200.90 86.50 L201.10 86.09 L201.30 85.67 L201.50 85.24 L201.70 84.82 L201.90 84.40 L202.09 83.98 L202.28 83.55 L202.47 83.13 L202.66 82.70 L202.85 82.27 L203.04 81.84 L203.22 81.41 L203.41 80.98 L203.59 80.55 L203.77 80.12 L203.94 79.69 L204.12 79.25 L204.29 78.81 L204.47 78.38 L204.63 77.94 L204.80 77.50 L204.97 77.06 L205.13 76.62 L205.30 76.18 L205.46 75.73" fill="none" stroke="#4b1687" stroke-width="1.25" stroke-dasharray="11 2.75 1.4 2.75" stroke-dashoffset="14.97"/>
<path d="M205.46 75.73 L205.61 75.29 L205.77 74.84 L205.92 74.40 L206.08 73.95 L206.23 73.50 L206.37 73.05 L206.52 72.60 L206.66 72.15 L206.80 71.70 L206.94 71.25 L207.07 70.79 L207.21 70.34 L207.34 69.88 L207.46 69.43 L207.59 68.97 L207.71 68.51 L207.83 68.06 L207.94 67.60 L208.05 67.14 L208.16 66.68 L208.27 66.22 L208.37 65.76 L208.47 65.30 L208.56 64.84 L208.65 64.38 L208.74 63.91 L208.82 63.45 L208.90 62.99 L208.98 62.53 L209.05 62.06 L209.12 61.60 L209.19 61.14 L209.25 60.68 L209.30 60.21 L209.36 59.75 L209.40 59.29 L209.45 58.82 L209.49 58.36 L209.52 57.90 L209.55 57.43 L209.58 56.97 L209.60 56.51 L209.61 56.04 L209.62 55.58 L209.63 55.12 L209.63 54.66 L209.63 54.20 L209.62 53.74 L209.61 53.28 L209.59 52.81 L209.56 52.36 L209.53 51.90 L209.50 51.44 L209.46 50.98 L209.41 50.52 L209.36 50.07 L209.30 49.61 L209.24 49.16 L209.17 48.71 L209.10 48.26 L209.02 47.81 L208.93 47.36 L208.84 46.92 L208.74 46.47 L208.63 46.03 L208.52 45.59 L208.40 45.15 L208.28 44.72 L208.15 44.28 L208.01 43.85 L207.87 43.42 L207.72 43.00 L207.56 42.57 L207.40 42.15 L207.23 41.74 L207.05 41.32 L206.87 40.91 L206.68 40.50 L206.48 40.09 L206.27 39.69 L206.06 39.29 L205.84 38.89 L205.61 38.50 L205.38 38.11 L205.14 37.73 L204.89 37.35 L204.63 36.97 L204.36 36.60 L204.09 36.23 L203.81 35.86 L203.52 35.50 L203.22 35.14 L202.92 34.79 L202.61 34.45 L202.29 34.10 L201.96 33.77 L201.62 33.43 L201.27 33.10 L200.92 32.78 L200.56 32.46 L200.19 32.15 L199.81 31.84 L199.42 31.54 L199.02 31.24 L198.61 30.95 L198.20 30.67 L197.77 30.39" fill="none" stroke="#4b1687" stroke-width="1.25" stroke-dasharray="11 2.75 1.4 2.75" stroke-dashoffset="13.28"/>
<circle cx="50.50" cy="230.90" r="3.05" fill="#4b1687"/>
<circle cx="55.60" cy="227.40" r="3.05" fill="#4b1687"/>
<circle cx="69.80" cy="217.10" r="3.05" fill="#4b1687"/>
<circle cx="102.00" cy="193.20" r="3.05" fill="#4b1687"/>
<circle cx="154.70" cy="147.10" r="3.05" fill="#4b1687"/>
<circle cx="202.10" cy="83.80" r="3.05" fill="#4b1687"/>
<circle cx="203.50" cy="35.40" r="3.05" fill="#4b1687"/>
<path d="M44.62 234.12 L44.94 233.85 L45.25 233.59 L45.57 233.32 L45.88 233.05 L46.19 232.78 L46.51 232.52 L46.82 232.25 L47.14 231.98 L47.45 231.71 L47.77 231.44 L48.08 231.18 L48.39 230.91 L48.71 230.64 L49.02 230.37 L49.33 230.10 L49.65 229.83 L49.96 229.56 L50.28 229.29 L50.59 229.03 L50.90 228.76 L51.22 228.49 L51.53 228.22 L51.84 227.95 L52.16 227.68 L52.47 227.41 L52.78 227.14 L53.09 226.87 L53.41 226.60 L53.72 226.33 L54.03 226.06 L54.35 225.79 L54.66 225.51 L54.97 225.24 L55.28 224.97 L55.60 224.70 L55.91 224.43 L56.22 224.16 L56.53 223.89 L56.84 223.62 L57.16 223.34 L57.47 223.07 L57.78 222.80 L58.09 222.53 L58.40 222.26 L58.71 221.98 L59.03 221.71 L59.34 221.44 L59.65 221.16 L59.96 220.89 L60.27 220.62 L60.58 220.35 L60.89 220.07 L61.20 219.80 L61.51 219.52 L61.82 219.25 L62.13 218.98 L62.45 218.70 L62.76 218.43 L63.07 218.15 L63.38 217.88 L63.69 217.60 L64.00 217.33 L64.30 217.06 L64.61 216.78 L64.92 216.50 L65.23 216.23 L65.54 215.95 L65.85 215.68 L66.16 215.40 L66.47 215.13 L66.78 214.85 L67.09 214.57 L67.40 214.30 L67.70 214.02 L68.01 213.74 L68.32 213.47 L68.63 213.19 L68.94 212.91 L69.24 212.64 L69.55 212.36 L69.86 212.08 L70.17 211.80 L70.47 211.53 L70.78 211.25 L71.09 210.97 L71.40 210.69 L71.70 210.41 L72.01 210.13 L72.32 209.86 L72.62 209.58 L72.93 209.30 L73.23 209.02 L73.54 208.74 L73.85 208.46 L74.15 208.18 L74.46 207.90 L74.76 207.62 L75.07 207.34 L75.37 207.06 L75.68 206.78 L75.98 206.50 L76.29 206.22 L76.59 205.93 L76.90 205.65 L77.20 205.37 L77.50 205.09 L77.81 204.81 L78.11 204.53 L78.42 204.24 L78.72 203.96 L79.02 203.68 L79.33 203.40 L79.63 203.11 L79.93 202.83 L80.23 202.55 L80.54 202.27 L80.84 201.98 L81.14 201.70 L81.44 201.41 L81.74 201.13 L82.05 200.85 L82.35 200.56 L82.65 200.28" fill="none" stroke="#000000" stroke-width="1.25" stroke-dasharray="10 3.1 1.4 3.1 1.4 3.2" stroke-dashoffset="13.85"/>
<path d="M82.65 200.28 L82.95 199.99 L83.25 199.71 L83.55 199.42 L83.85 199.14 L84.15 198.85 L84.45 198.57 L84.75 198.28 L85.05 198.00 L85.35 197.71 L85.65 197.42 L85.95 197.14 L86.25 196.85 L86.55 196.56 L86.85 196.28 L87.15 195.99 L87.44 195.70 L87.74 195.41 L88.04 195.13 L88.34 194.84 L88.64 194.55 L88.93 194.26 L89.23 193.97 L89.53 193.68 L89.83 193.40 L90.12 193.11 L90.42 192.82 L90.71 192.53 L91.01 192.24 L91.31 191.95 L91.60 191.66 L91.90 191.37 L92.19 191.08 L92.49 190.79 L92.78 190.50 L93.08 190.20 L93.37 189.91 L93.67 189.62 L93.96 189.33 L94.25 189.04 L94.55 188.75 L94.84 188.45 L95.13 188.16 L95.43 187.87 L95.72 187.58 L96.01 187.28 L96.31 186.99 L96.60 186.70 L96.89 186.40 L97.18 186.11 L97.47 185.82 L97.76 185.52 L98.05 185.23 L98.35 184.93 L98.64 184.64 L98.93 184.34 L99.22 184.05 L99.51 183.75 L99.80 183.46 L100.08 183.16 L100.37 182.86 L100.66 182.57 L100.95 182.27 L101.24 181.97 L101.53 181.68 L101.82 181.38 L102.10 181.08 L102.39 180.78 L102.68 180.49 L102.97 180.19 L103.25 179.89 L103.54 179.59 L103.83 179.29 L104.11 178.99 L104.40 178.70 L104.68 178.40 L104.97 178.10 L105.25 177.80 L105.54 177.50 L105.82 177.20 L106.11 176.90 L106.39 176.59 L106.67 176.29 L106.96 175.99 L107.24 175.69 L107.52 175.39 L107.81 175.09 L108.09 174.79 L108.37 174.48 L108.65 174.18 L108.94 173.88 L109.22 173.58 L109.50 173.27 L109.78 172.97 L110.06 172.67 L110.34 172.36 L110.62 172.06 L110.90 171.75 L111.18 171.45 L111.46 171.14 L111.74 170.84 L112.02 170.53 L112.30 170.23 L112.57 169.92 L112.85 169.62 L113.13 169.31 L113.41 169.00 L113.68 168.70 L113.96 168.39 L114.24 168.08 L114.51 167.77 L114.79 167.47 L115.07 167.16 L115.34 166.85 L115.62 166.54 L115.89 166.23 L116.16 165.93 L116.44 165.62 L116.71 165.31 L116.99 165.00 L117.26 164.69 L117.53 164.38 L117.81 164.07 L118.08 163.76 L118.35 163.45 L118.62 163.13 L118.89 162.82 L119.17 162.51 L119.44 162.20 L119.71 161.89 L119.98 161.58 L120.25 161.26 L120.52 160.95 L120.79 160.64 L121.06 160.32 L121.32 160.01 L121.59 159.70 L121.86 159.38 L122.13 159.07 L122.40 158.75 L122.66 158.44 L122.93 158.12 L123.20 157.81 L123.46 157.49 L123.73 157.18 L124.00 156.86 L124.26 156.54 L124.53 156.23 L124.79 155.91 L125.05 155.59 L125.32 155.27 L125.58 154.96 L125.85 154.64 L126.11 154.32 L126.37 154.00 L126.63 153.68 L126.90 153.36 L127.16 153.04 L127.42 152.73 L127.68 152.41 L127.94 152.09 L128.20 151.76 L128.46 151.44 L128.72 151.12 L128.98 150.80 L129.24 150.48 L129.50 150.16 L129.76 149.84 L130.01 149.51 L130.27 149.19 L130.53 148.87 L130.79 148.55 L131.04 148.22 L131.30 147.90 L131.56 147.57 L131.81 147.25 L132.07 146.93 L132.32 146.60 L132.58 146.28 L132.83 145.95 L133.08 145.63 L133.34 145.30 L133.59 144.97 L133.84 144.65 L134.10 144.32 L134.35 143.99 L134.60 143.67 L134.85 143.34 L135.10 143.01 L135.35 142.68 L135.60 142.35 L135.85 142.02 L136.10 141.70 L136.35 141.37 L136.60 141.04 L136.85 140.71 L137.10 140.38 L137.34 140.05 L137.59 139.72 L137.84 139.38 L138.08 139.05 L138.33 138.72 L138.58 138.39 L138.82 138.06 L139.07 137.72 L139.31 137.39 L139.55 137.06 L139.80 136.72 L140.04 136.39 L140.28 136.06 L140.53 135.72 L140.77 135.39 L141.01 135.05 L141.25 134.72 L141.49 134.38 L141.74 134.05 L141.98 133.71 L142.22 133.37 L142.45 133.04 L142.69 132.70 L142.93 132.36 L143.17 132.03 L143.41 131.69 L143.65 131.35 L143.88 131.01 L144.12 130.67 L144.36 130.33 L144.59 129.99 L144.83 129.65 L145.06 129.31 L145.30 128.97 L145.53 128.63 L145.77 128.29 L146.00 127.95 L146.23 127.61 L146.47 127.27 L146.70 126.92 L146.93 126.58 L147.16 126.24 L147.39 125.90 L147.62 125.55 L147.85 125.21 L148.08 124.86 L148.31 124.52 L148.54 124.17 L148.76 123.83 L148.99 123.48 L149.22 123.14 L149.45 122.79 L149.67 122.44 L149.90 122.10 L150.12 121.75 L150.35 121.40 L150.57 121.05 L150.79 120.71 L151.01 120.36 L151.24 120.01 L151.46 119.66 L151.68 119.31 L151.90 118.96 L152.12 118.61 L152.34 118.26 L152.56 117.91 L152.77 117.56 L152.99 117.20 L153.21 116.85 L153.43 116.50 L153.64 116.15 L153.86 115.79 L154.07 115.44 L154.28 115.09 L154.50 114.73 L154.71 114.38 L154.92 114.02 L155.13 113.67 L155.34 113.31 L155.55 112.95 L155.76 112.60 L155.97 112.24 L156.18 111.88 L156.39 111.52 L156.59 111.17 L156.80 110.81 L157.01 110.45 L157.21 110.09 L157.41 109.73 L157.62 109.37 L157.82 109.01 L158.02 108.65 L158.22 108.29 L158.42 107.93 L158.62 107.56 L158.82 107.20 L159.02 106.84 L159.22 106.47 L159.41 106.11 L159.61 105.75 L159.81 105.38 L160.00 105.02 L160.19 104.65 L160.39 104.29 L160.58 103.92 L160.77 103.55 L160.96 103.19 L161.15 102.82 L161.34 102.45 L161.53 102.08 L161.72 101.71 L161.90 101.34 L162.09 100.98 L162.27 100.61 L162.46 100.23 L162.64 99.86 L162.82 99.49 L163.00 99.12 L163.18 98.75 L163.36 98.38 L163.54 98.00 L163.72 97.63 L163.90 97.26 L164.08 96.88 L164.25 96.51 L164.43 96.13 L164.60 95.76 L164.77 95.38 L164.95 95.00 L165.12 94.63 L165.29 94.25 L165.46 93.87 L165.62 93.49 L165.79 93.11 L165.96 92.73 L166.12 92.35 L166.29 91.97 L166.45 91.59 L166.62 91.21 L166.78 90.83 L166.94 90.45 L167.10 90.07 L167.26 89.68 L167.42 89.30 L167.57 88.92 L167.73 88.53 L167.88 88.15 L168.04 87.76 L168.19 87.38 L168.34 86.99 L168.49 86.60 L168.64 86.22 L168.79 85.83 L168.94 85.44 L169.09 85.05" fill="none" stroke="#000000" stroke-width="1.25" stroke-dasharray="10 3.1 1.4 3.1 1.4 3.25" stroke-dashoffset="18.28"/>
<path d="M169.09 85.05 L169.23 84.66 L169.38 84.27 L169.52 83.88 L169.67 83.49 L169.81 83.10 L169.95 82.71 L170.09 82.32 L170.23 81.92 L170.37 81.53 L170.50 81.14 L170.64 80.74 L170.77 80.35 L170.90 79.95 L171.04 79.56 L171.17 79.16 L171.30 78.76 L171.43 78.37 L171.55 77.97 L171.68 77.57 L171.80 77.17 L171.93 76.78 L172.05 76.38 L172.17 75.98 L172.29 75.58 L172.40 75.18 L172.52 74.78 L172.63 74.38 L172.74 73.98 L172.85 73.57 L172.96 73.17 L173.07 72.77 L173.18 72.37 L173.28 71.97 L173.38 71.56 L173.48 71.16 L173.58 70.76 L173.67 70.35 L173.77 69.95 L173.86 69.54 L173.95 69.14 L174.04 68.74 L174.12 68.33 L174.21 67.93 L174.29 67.52 L174.37 67.12 L174.45 66.71 L174.52 66.31 L174.59 65.90 L174.66 65.50 L174.73 65.09 L174.80 64.68 L174.86 64.28 L174.92 63.87 L174.98 63.47 L175.03 63.06 L175.09 62.65 L175.14 62.25 L175.19 61.84 L175.23 61.44 L175.27 61.03 L175.31 60.62 L175.35 60.22 L175.38 59.81 L175.42 59.41 L175.44 59.00 L175.47 58.59 L175.49 58.19 L175.51 57.78 L175.53 57.38 L175.54 56.97 L175.55 56.57 L175.56 56.16 L175.56 55.76 L175.57 55.35 L175.56 54.95 L175.56 54.54 L175.55 54.14 L175.54 53.73 L175.52 53.33 L175.51 52.93 L175.48 52.52 L175.46 52.12 L175.43 51.72 L175.40 51.31 L175.36 50.91 L175.32 50.51 L175.28 50.11 L175.24 49.71 L175.19 49.31 L175.13 48.90 L175.07 48.50 L175.01 48.10 L174.95 47.70 L174.88 47.30 L174.81 46.90 L174.73 46.51 L174.65 46.11 L174.57 45.71 L174.48 45.31 L174.39 44.91 L174.29 44.52 L174.19 44.12 L174.08 43.73 L173.98 43.33 L173.86 42.94 L173.75 42.54 L173.63 42.15 L173.50 41.75 L173.37 41.36 L173.24 40.97 L173.10 40.58 L172.95 40.19 L172.81 39.80 L172.66 39.40 L172.50 39.02 L172.34 38.63 L172.17 38.24 L172.00 37.85 L171.83 37.46 L171.65 37.08 L171.46 36.69 L171.28 36.31 L171.08 35.92 L170.88 35.54 L170.68 35.15" fill="none" stroke="#000000" stroke-width="1.25" stroke-dasharray="10 3.2 1.4 3.2 1.4 3.2" stroke-dashoffset="18.30"/>
<path d="M52.00 226.05 L54.35 229.95 L49.65 229.95 Z" fill="#808080" stroke="#000000" stroke-width="1.0" stroke-linejoin="miter"/>
<path d="M60.60 218.45 L62.95 222.35 L58.25 222.35 Z" fill="#808080" stroke="#000000" stroke-width="1.0" stroke-linejoin="miter"/>
<path d="M82.25 198.05 L84.60 201.95 L79.90 201.95 Z" fill="#808080" stroke="#000000" stroke-width="1.0" stroke-linejoin="miter"/>
<path d="M120.90 158.05 L123.25 161.95 L118.55 161.95 Z" fill="#808080" stroke="#000000" stroke-width="1.0" stroke-linejoin="miter"/>
<path d="M163.00 96.90 L165.35 100.80 L160.65 100.80 Z" fill="#808080" stroke="#000000" stroke-width="1.0" stroke-linejoin="miter"/>
<path d="M174.20 41.15 L176.55 45.05 L171.85 45.05 Z" fill="#808080" stroke="#000000" stroke-width="1.0" stroke-linejoin="miter"/>
<path d="M44.60 234.10 L44.86 233.83 L45.12 233.56 L45.38 233.29 L45.64 233.02 L45.91 232.75 L46.17 232.48 L46.43 232.20 L46.69 231.93 L46.95 231.66 L47.21 231.39 L47.47 231.12 L47.73 230.84 L47.99 230.57 L48.25 230.30 L48.51 230.03 L48.77 229.75 L49.04 229.48 L49.30 229.21 L49.56 228.94 L49.82 228.66 L50.08 228.39 L50.33 228.12 L50.59 227.84 L50.85 227.57 L51.11 227.30 L51.37 227.02 L51.63 226.75 L51.89 226.48 L52.15 226.20 L52.41 225.93 L52.67 225.66 L52.93 225.38 L53.18 225.11 L53.44 224.83 L53.70 224.56 L53.96 224.29 L54.22 224.01 L54.48 223.74 L54.73 223.46 L54.99 223.19 L55.25 222.91 L55.51 222.64 L55.76 222.36 L56.02 222.09 L56.28 221.81 L56.53 221.54 L56.79 221.26 L57.05 220.99 L57.30 220.71 L57.56 220.44 L57.82 220.16 L58.07 219.88 L58.33 219.61 L58.59 219.33 L58.84 219.06 L59.10 218.78 L59.35 218.50 L59.61 218.23 L59.86 217.95 L60.12 217.67 L60.37 217.40 L60.63 217.12 L60.88 216.84 L61.14 216.57 L61.39 216.29 L61.65 216.01 L61.90 215.73 L62.15 215.46 L62.41 215.18 L62.66 214.90 L62.92 214.62 L63.17 214.34 L63.42 214.07 L63.68 213.79 L63.93 213.51 L64.18 213.23 L64.43 212.95 L64.69 212.67 L64.94 212.40 L65.19 212.12 L65.44 211.84 L65.70 211.56 L65.95 211.28 L66.20 211.00 L66.45 210.72 L66.70 210.44 L66.95 210.16 L67.21 209.88 L67.46 209.60 L67.71 209.32 L67.96 209.04 L68.21 208.76 L68.46 208.48 L68.71 208.20 L68.96 207.92 L69.21 207.64 L69.46 207.36 L69.71 207.08 L69.96 206.80 L70.21 206.51 L70.46 206.23 L70.70 205.95 L70.95 205.67 L71.20 205.39 L71.45 205.11 L71.70 204.82 L71.95 204.54 L72.20 204.26 L72.44 203.98 L72.69 203.69 L72.94 203.41 L73.19 203.13 L73.43 202.85 L73.68 202.56 L73.93 202.28 L74.17 202.00 L74.42 201.71 L74.67 201.43 L74.91 201.15 L75.16 200.86 L75.40 200.58 L75.65 200.29 L75.89 200.01 L76.14 199.72 L76.38 199.44 L76.63 199.16 L76.87 198.87 L77.12 198.59 L77.36 198.30 L77.61 198.02 L77.85 197.73 L78.09 197.44 L78.34 197.16 L78.58 196.87 L78.83 196.59 L79.07 196.30 L79.31 196.02 L79.55 195.73 L79.80 195.44 L80.04 195.16 L80.28 194.87 L80.52 194.58 L80.76 194.30 L81.01 194.01 L81.25 193.72 L81.49 193.43 L81.73 193.15 L81.97 192.86 L82.21 192.57 L82.45 192.28 L82.69 191.99 L82.93 191.71 L83.17 191.42 L83.41 191.13 L83.65 190.84 L83.89 190.55 L84.13 190.26 L84.37 189.97 L84.61 189.68 L84.84 189.39 L85.08 189.10 L85.32 188.81 L85.56 188.52 L85.80 188.23 L86.03 187.94 L86.27 187.65 L86.51 187.36 L86.75 187.07 L86.98 186.78 L87.22 186.49 L87.45 186.20 L87.69 185.91 L87.93 185.62 L88.16 185.32 L88.40 185.03 L88.63 184.74 L88.87 184.45 L89.10 184.16 L89.34 183.86 L89.57 183.57 L89.81 183.28 L90.04 182.98 L90.27 182.69 L90.51 182.40 L90.74 182.10 L90.97 181.81 L91.21 181.52 L91.44 181.22 L91.67 180.93 L91.90 180.64 L92.13 180.34 L92.37 180.05 L92.60 179.75 L92.83 179.46 L93.06 179.16 L93.29 178.87 L93.52 178.57 L93.75 178.28 L93.98 177.98 L94.21 177.68 L94.44 177.39 L94.67 177.09 L94.90 176.79 L95.13 176.50 L95.36 176.20 L95.59 175.90 L95.81 175.61 L96.04 175.31 L96.27 175.01 L96.50 174.71 L96.73 174.42 L96.95 174.12 L97.18 173.82 L97.41 173.52 L97.63 173.22 L97.86 172.92 L98.09 172.63 L98.31 172.33 L98.54 172.03 L98.76 171.73 L98.99 171.43 L99.21 171.13 L99.44 170.83 L99.66 170.53 L99.88 170.23 L100.11 169.93 L100.33 169.63 L100.55 169.33 L100.78 169.03 L101.00 168.72 L101.22 168.42 L101.45 168.12 L101.67 167.82 L101.89 167.52 L102.11 167.22 L102.33 166.91 L102.55 166.61 L102.77 166.31 L103.00 166.01 L103.22 165.70 L103.44 165.40 L103.66 165.10 L103.87 164.79 L104.09 164.49 L104.31 164.18 L104.53 163.88 L104.75 163.58 L104.97 163.27 L105.19 162.97 L105.40 162.66 L105.62 162.36 L105.84 162.05 L106.06 161.75 L106.27 161.44 L106.49 161.13 L106.71 160.83 L106.92 160.52 L107.14 160.21 L107.35 159.91 L107.57 159.60 L107.78 159.29 L108.00 158.99 L108.21 158.68 L108.43 158.37 L108.64 158.06 L108.85 157.76 L109.07 157.45 L109.28 157.14 L109.49 156.83 L109.70 156.52 L109.92 156.21 L110.13 155.90 L110.34 155.59 L110.55 155.28 L110.76 154.97 L110.97 154.66 L111.18 154.35 L111.39 154.04 L111.60 153.73 L111.81 153.42 L112.02 153.11 L112.23 152.80 L112.44 152.49 L112.65 152.18 L112.86 151.86 L113.07 151.55 L113.27 151.24 L113.48 150.93 L113.69 150.61 L113.90 150.30 L114.10 149.99 L114.31 149.67 L114.51 149.36 L114.72 149.05 L114.92 148.73 L115.13 148.42 L115.33 148.10 L115.54 147.79 L115.74 147.47 L115.95 147.16 L116.15 146.84 L116.35 146.53 L116.56 146.21 L116.76 145.90 L116.96 145.58 L117.17 145.26 L117.37 144.95 L117.57 144.63 L117.77 144.31 L117.97 144.00 L118.17 143.68 L118.37 143.36 L118.57 143.04 L118.77 142.72 L118.97 142.41 L119.17 142.09 L119.37 141.77 L119.57 141.45 L119.77 141.13 L119.96 140.81 L120.16 140.49 L120.36 140.17 L120.56 139.85 L120.75 139.53 L120.95 139.21 L121.15 138.89 L121.34 138.57 L121.54 138.25 L121.73 137.93 L121.93 137.60 L122.12 137.28 L122.32 136.96 L122.51 136.64 L122.70 136.31 L122.90 135.99 L123.09 135.67 L123.28 135.35 L123.47 135.02 L123.67 134.70 L123.86 134.37 L124.05 134.05 L124.24 133.72 L124.43 133.40 L124.62 133.08 L124.81 132.75 L125.00 132.42 L125.19 132.10 L125.38 131.77 L125.57 131.45 L125.76 131.12 L125.95 130.79 L126.13 130.47 L126.32 130.14 L126.51 129.81 L126.70 129.48 L126.88 129.16 L127.07 128.83 L127.25 128.50 L127.44 128.17 L127.62 127.84 L127.81 127.51 L127.99 127.18 L128.18 126.86 L128.36 126.53 L128.55 126.20 L128.73 125.87 L128.91 125.53 L129.09 125.20 L129.28 124.87 L129.46 124.54 L129.64 124.21 L129.82 123.88 L130.00 123.55 L130.18 123.21 L130.36 122.88 L130.54 122.55 L130.72 122.22 L130.90 121.88 L131.08 121.55 L131.26 121.22 L131.43 120.88 L131.61 120.55 L131.79 120.21 L131.96 119.88 L132.14 119.54 L132.32 119.21 L132.49 118.87 L132.67 118.54 L132.84 118.20 L133.01 117.87 L133.19 117.53 L133.36 117.19 L133.53 116.86 L133.70 116.52 L133.88 116.18 L134.05 115.84 L134.22 115.51 L134.39 115.17 L134.56 114.83 L134.72 114.49 L134.89 114.15 L135.06 113.81 L135.23 113.47 L135.40 113.14 L135.56 112.80 L135.73 112.46 L135.89 112.12 L136.06 111.77 L136.22 111.43 L136.39 111.09 L136.55 110.75 L136.71 110.41 L136.87 110.07 L137.03 109.73 L137.20 109.38 L137.36 109.04 L137.51 108.70 L137.67 108.36 L137.83 108.01 L137.99 107.67 L138.15 107.33 L138.30 106.98 L138.46 106.64 L138.61 106.29 L138.77 105.95 L138.92 105.61 L139.08 105.26 L139.23 104.92 L139.38 104.57 L139.53 104.22 L139.68 103.88 L139.83 103.53 L139.98 103.19 L140.13 102.84 L140.28 102.49 L140.43 102.14 L140.57 101.80 L140.72 101.45 L140.86 101.10 L141.01 100.75 L141.15 100.41 L141.30 100.06 L141.44 99.71 L141.58 99.36 L141.72 99.01 L141.86 98.66 L142.00 98.31 L142.14 97.96 L142.28 97.61 L142.41 97.26 L142.55 96.91 L142.68 96.56 L142.82 96.21 L142.95 95.86 L143.09 95.50 L143.22 95.15 L143.35 94.80 L143.48 94.45 L143.61 94.09 L143.74 93.74 L143.87 93.39 L144.00 93.04 L144.12 92.68 L144.25 92.33 L144.37 91.97 L144.50 91.62 L144.62 91.27 L144.74 90.91 L144.86 90.56 L144.98 90.20 L145.10 89.85 L145.22 89.49 L145.34 89.13 L145.46 88.78 L145.57 88.42 L145.69 88.06 L145.80 87.71 L145.92 87.35 L146.03 86.99 L146.14 86.64 L146.25 86.28 L146.36 85.92 L146.47 85.56 L146.58 85.20 L146.68 84.84 L146.79 84.49 L146.90 84.13 L147.00 83.77 L147.10 83.41 L147.20 83.05 L147.31 82.69 L147.41 82.33 L147.50 81.97 L147.60 81.61 L147.70 81.25 L147.80 80.88 L147.89 80.52 L147.98 80.16 L148.08 79.80 L148.17 79.44 L148.26 79.07 L148.35 78.71 L148.44 78.35 L148.53 77.99 L148.61 77.62 L148.70 77.26 L148.78 76.90 L148.87 76.53 L148.95 76.17 L149.03 75.80 L149.11 75.44 L149.19 75.07 L149.27 74.71 L149.34 74.34 L149.42 73.98 L149.49 73.61 L149.56 73.25 L149.63 72.88 L149.71 72.51 L149.77 72.15 L149.84 71.78 L149.91 71.41 L149.97 71.05 L150.04 70.68 L150.10 70.31 L150.16 69.95 L150.22 69.58 L150.28 69.21 L150.34 68.84 L150.40 68.47 L150.45 68.10 L150.51 67.74 L150.56 67.37 L150.61 67.00 L150.66 66.63 L150.71 66.26 L150.75 65.89 L150.80 65.52 L150.84 65.15 L150.89 64.78 L150.93 64.41 L150.97 64.04 L151.01 63.67 L151.04 63.29 L151.08 62.92 L151.11 62.55 L151.15 62.18 L151.18 61.81 L151.21 61.44 L151.24 61.06 L151.26 60.69 L151.29 60.32 L151.31 59.95 L151.34 59.57 L151.36 59.20 L151.38 58.83 L151.39 58.45 L151.41 58.08 L151.42 57.71 L151.44 57.33 L151.45 56.96 L151.46 56.58 L151.47 56.21 L151.47 55.83 L151.48 55.46 L151.48 55.09 L151.49 54.71 L151.49 54.34 L151.48 53.96 L151.48 53.58 L151.48 53.21 L151.47 52.83 L151.46 52.46 L151.45 52.08 L151.44 51.70 L151.43 51.33 L151.41 50.95 L151.40 50.57 L151.38 50.20 L151.36 49.82 L151.34 49.44 L151.31 49.07 L151.29 48.69 L151.26 48.31 L151.23 47.93 L151.20 47.56 L151.17 47.18 L151.13 46.80 L151.10 46.42 L151.06 46.04 L151.02 45.66 L150.98 45.28 L150.93 44.91 L150.89 44.53 L150.84 44.15 L150.79 43.77 L150.74 43.39 L150.69 43.01 L150.63 42.63" fill="none" stroke="#00f000" stroke-width="1.25" stroke-dasharray="6.6 3.1" stroke-dashoffset="8.52"/>
<path d="M47.40 228.95 L50.05 233.40 L44.75 233.40 Z" fill="#00f000"/>
<path d="M49.70 226.45 L52.35 230.90 L47.05 230.90 Z" fill="#00f000"/>
<path d="M55.60 220.25 L58.25 224.70 L52.95 224.70 Z" fill="#00f000"/>
<path d="M70.80 203.85 L73.45 208.30 L68.15 208.30 Z" fill="#00f000"/>
<path d="M99.80 168.10 L102.45 172.55 L97.15 172.55 Z" fill="#00f000"/>
<path d="M135.40 110.55 L138.05 115.00 L132.75 115.00 Z" fill="#00f000"/>
<path d="M151.70 50.00 L154.35 54.45 L149.05 54.45 Z" fill="#00f000"/>
<rect x="44.6" y="10.0" width="329.90" height="224.10" fill="none" stroke="#000" stroke-width="1.6"/>
<path d="M44.60 234.1 v-4.3 M44.60 10.0 v4.3 M55.60 234.1 v-2.3 M55.60 10.0 v2.3 M66.59 234.1 v-2.3 M66.59 10.0 v2.3 M77.59 234.1 v-2.3 M77.59 10.0 v2.3 M88.59 234.1 v-2.3 M88.59 10.0 v2.3 M99.58 234.1 v-4.3 M99.58 10.0 v4.3 M110.58 234.1 v-2.3 M110.58 10.0 v2.3 M121.58 234.1 v-2.3 M121.58 10.0 v2.3 M132.57 234.1 v-2.3 M132.57 10.0 v2.3 M143.57 234.1 v-2.3 M143.57 10.0 v2.3 M154.57 234.1 v-4.3 M154.57 10.0 v4.3 M165.56 234.1 v-2.3 M165.56 10.0 v2.3 M176.56 234.1 v-2.3 M176.56 10.0 v2.3 M187.56 234.1 v-2.3 M187.56 10.0 v2.3 M198.55 234.1 v-2.3 M198.55 10.0 v2.3 M209.55 234.1 v-4.3 M209.55 10.0 v4.3 M220.55 234.1 v-2.3 M220.55 10.0 v2.3 M231.54 234.1 v-2.3 M231.54 10.0 v2.3 M242.54 234.1 v-2.3 M242.54 10.0 v2.3 M253.54 234.1 v-2.3 M253.54 10.0 v2.3 M264.53 234.1 v-4.3 M264.53 10.0 v4.3 M275.53 234.1 v-2.3 M275.53 10.0 v2.3 M286.53 234.1 v-2.3 M286.53 10.0 v2.3 M297.52 234.1 v-2.3 M297.52 10.0 v2.3 M308.52 234.1 v-2.3 M308.52 10.0 v2.3 M319.52 234.1 v-4.3 M319.52 10.0 v4.3 M330.51 234.1 v-2.3 M330.51 10.0 v2.3 M341.51 234.1 v-2.3 M341.51 10.0 v2.3 M352.51 234.1 v-2.3 M352.51 10.0 v2.3 M363.50 234.1 v-2.3 M363.50 10.0 v2.3 M374.50 234.1 v-4.3 M374.50 10.0 v4.3 M44.6 234.10 h4.3 M374.5 234.10 h-4.3 M44.6 222.89 h2.3 M374.5 222.89 h-2.3 M44.6 211.69 h2.3 M374.5 211.69 h-2.3 M44.6 200.49 h2.3 M374.5 200.49 h-2.3 M44.6 189.28 h2.3 M374.5 189.28 h-2.3 M44.6 178.07 h4.3 M374.5 178.07 h-4.3 M44.6 166.87 h2.3 M374.5 166.87 h-2.3 M44.6 155.66 h2.3 M374.5 155.66 h-2.3 M44.6 144.46 h2.3 M374.5 144.46 h-2.3 M44.6 133.25 h2.3 M374.5 133.25 h-2.3 M44.6 122.05 h4.3 M374.5 122.05 h-4.3 M44.6 110.84 h2.3 M374.5 110.84 h-2.3 M44.6 99.64 h2.3 M374.5 99.64 h-2.3 M44.6 88.44 h2.3 M374.5 88.44 h-2.3 M44.6 77.23 h2.3 M374.5 77.23 h-2.3 M44.6 66.03 h4.3 M374.5 66.03 h-4.3 M44.6 54.82 h2.3 M374.5 54.82 h-2.3 M44.6 43.62 h2.3 M374.5 43.62 h-2.3 M44.6 32.41 h2.3 M374.5 32.41 h-2.3 M44.6 21.21 h2.3 M374.5 21.21 h-2.3 M44.6 10.00 h4.3 M374.5 10.00 h-4.3" stroke="#000" stroke-width="0.7" fill="none"/>
<text x="46.50" y="247.4" text-anchor="middle" font-size="13.4">0</text>
<text x="101.48" y="247.4" text-anchor="middle" font-size="13.4">0.5</text>
<text x="156.47" y="247.4" text-anchor="middle" font-size="13.4">1</text>
<text x="211.45" y="247.4" text-anchor="middle" font-size="13.4">1.5</text>
<text x="266.43" y="247.4" text-anchor="middle" font-size="13.4">2</text>
<text x="321.42" y="247.4" text-anchor="middle" font-size="13.4">2.5</text>
<text x="376.40" y="247.4" text-anchor="middle" font-size="13.4">3</text>
<text x="39.3" y="239.00" text-anchor="end" font-size="13.4">0</text>
<text x="39.3" y="182.97" text-anchor="end" font-size="13.4">0.05</text>
<text x="39.3" y="126.95" text-anchor="end" font-size="13.4">0.1</text>
<text x="39.3" y="70.93" text-anchor="end" font-size="13.4">0.15</text>
<text x="39.3" y="14.90" text-anchor="end" font-size="13.4">0.2</text>
<text x="188.3" y="262.8" font-size="14">M [M</text>
<circle cx="225.1" cy="263.5" r="1.55" fill="none" stroke="#000" stroke-width="0.6"/><circle cx="225.1" cy="263.5" r="0.5" fill="#000"/>
<text x="226.9" y="262.8" font-size="14">]</text>
<text transform="translate(12.1 136.8) rotate(-90)" font-size="14">M/R</text>
</svg>
</body></html>
